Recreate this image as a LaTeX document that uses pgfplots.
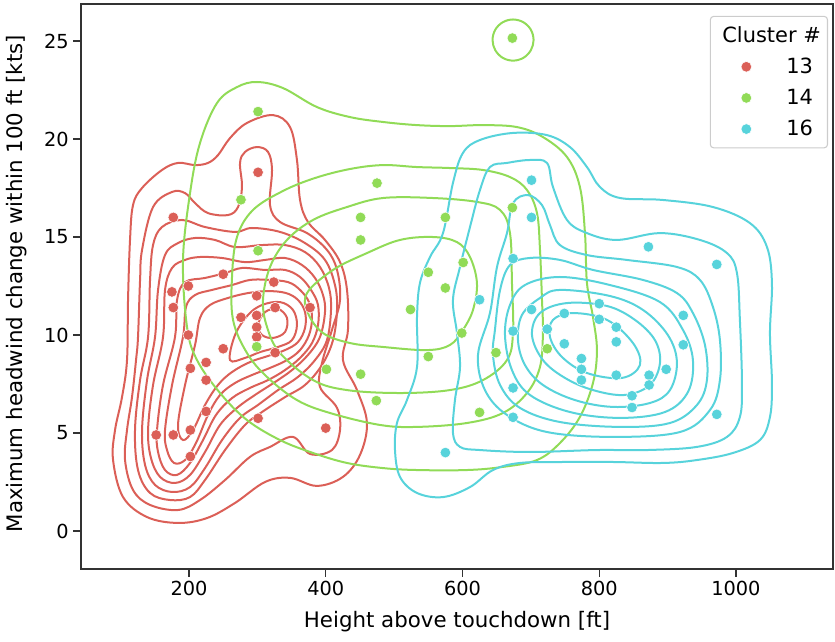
\documentclass[border=0pt]{standalone}
\usepackage{fontspec}
\setmainfont{DejaVu Sans}
\usepackage{pgfplots}
\pgfplotsset{compat=1.18}
\definecolor{c13}{HTML}{DB5F57}
\definecolor{c14}{HTML}{91DB57}
\definecolor{c16}{HTML}{57D3DB}
\definecolor{spine}{HTML}{333333}
\definecolor{legframe}{HTML}{CCCCCC}

\begin{document}
\begin{tikzpicture}
\begin{axis}[
  scale only axis,
  width=564pt, height=423.75pt,
  xmin=42, xmax=1142, ymin=-1.94, ymax=26.89,
  xtick={200,400,600,800,1000},
  ytick={0,5,10,15,20,25},
  /pgf/number format/1000 sep={},
  /pgf/number format/assume math mode=true,
  tick align=outside,
  major tick length=5.7pt,
  xtick pos=bottom, ytick pos=left,
  axis line style={spine, line width=1pt},
  every tick/.style={spine, line width=1pt},
  tick label style={font=\fontsize{14.5}{17}\selectfont},
  label style={font=\fontsize{16}{19}\selectfont},
  xlabel={Height above touchdown [ft]},
  ylabel={Maximum headwind change within 100 ft [kts]},
  xlabel style={at={(axis description cs:0.5,-0.0938)}, anchor=center},
  ylabel style={at={(axis description cs:-0.0851,0.505)}, anchor=center},
  legend cell align=left,
  legend style={at={(0.9934,0.979)}, anchor=north east, draw=legframe,
    line width=0.8pt, rounded corners=2.5pt, inner xsep=3pt, inner ysep=5.5pt,
    row sep=6.3pt, font=\fontsize{15.7}{18}\selectfont},
  legend image code/.code={\path[draw=none,fill=none] (-24pt,-4pt) rectangle (28pt,4pt);
    \draw[#1] plot coordinates {(0pt,0pt)};},
  cont/.style={smooth cycle, tension=0.6, line width=1.5pt, forget plot},
  pts/.style={only marks, mark=*, mark size=4pt,
    mark options={draw=white, line width=0.4pt}},
]
\coordinate (bl) at (rel axis cs:0,0);
\coordinate (tr) at (rel axis cs:1,1);

% ---- cluster 13 contours
\addplot[cont, c13] coordinates {
(113.7,14.85) (118.1,16.63) (131.3,17.50) (160.5,18.42) (183.9,18.78) (208.8,18.67)
(227.8,18.78) (242.4,19.18) (260.0,20.05) (284.8,20.82) (322.9,21.22) (347.7,20.61)
(357.9,18.93) (362.4,16.89) (374.0,15.77) (398.9,14.85) (420.9,13.72) (431.1,12.30)
(432.5,10.26) (425.2,8.72) (445.7,7.19) (460.3,5.51) (450.1,3.88) (425.2,2.76)
(387.2,2.30) (347.7,2.71) (311.2,2.50) (267.3,1.43) (226.3,0.66) (183.9,0.41)
(138.6,0.71) (103.5,1.73) (88.9,3.62) (91.8,5.15) (102.0,6.83) (109.3,8.72) (110.8,11.79)};
\addplot[cont, c13] coordinates {
(125.4,9.90) (128.4,12.81) (131.3,14.34) (147.4,16.53) (175.2,17.30) (194.2,17.24)
(208.8,16.73) (227.8,16.22) (257.1,16.12) (271.7,16.53) (277.5,17.55) (274.6,18.78)
(281.9,19.34) (299.5,19.59) (315.6,19.34) (321.4,18.42) (318.5,16.63) (333.1,15.77)
(372.6,15.20) (401.8,14.34) (416.5,13.32) (420.9,11.79) (409.1,10.26) (394.5,8.57)
(391.6,7.35) (416.5,6.28) (420.9,5.15) (409.1,4.13) (377.0,3.93) (352.1,4.80)
(318.5,4.29) (289.2,3.78) (252.7,2.60) (216.1,1.58) (183.9,1.07) (143.0,1.33)
(118.1,2.09) (106.4,3.62) (109.3,5.15) (116.6,6.83) (122.5,8.72)};
\addplot[cont, c13] coordinates {
(121.0,5.15) (128.4,7.70) (140.1,9.90) (143.0,12.81) (147.4,14.59) (160.5,15.51)
(189.8,15.87) (223.4,15.51) (267.3,15.26) (292.2,15.46) (333.1,15.26) (369.7,14.69)
(398.9,13.83) (413.5,12.55) (416.5,11.28) (410.6,9.74) (394.5,8.47) (369.7,7.45)
(340.4,6.83) (306.8,6.07) (281.9,5.41) (252.7,4.13) (223.4,2.60) (201.5,1.73)
(172.2,1.58) (143.0,1.94) (125.4,3.11)};
\addplot[cont, c13] coordinates {
(131.3,5.15) (138.6,7.70) (150.3,9.90) (154.7,12.30) (164.9,14.08) (183.9,14.69)
(208.8,14.95) (238.0,14.85) (267.3,14.49) (306.8,14.59) (340.4,14.59) (369.7,14.23)
(391.6,13.47) (404.8,12.40) (407.7,11.28) (401.8,9.74) (384.3,8.72) (359.4,7.86)
(330.2,7.19) (300.9,6.43) (274.6,5.77) (248.3,4.64) (223.4,3.21) (201.5,2.24)
(175.2,1.99) (150.3,2.35) (135.7,3.37)};
\addplot[cont, c13] coordinates {
(140.1,5.15) (147.4,7.45) (162.0,9.90) (164.9,12.30) (175.2,13.42) (194.2,13.83)
(216.1,13.98) (248.3,13.93) (281.9,13.72) (311.2,13.83) (340.4,13.93) (365.3,13.57)
(384.3,12.91) (396.0,12.04) (398.9,11.17) (391.6,9.90) (374.0,8.98) (350.6,8.21)
(325.8,7.60) (296.5,6.94) (270.2,6.28) (245.4,5.41) (223.4,4.03) (201.5,2.86)
(179.5,2.45) (157.6,2.76) (144.4,3.72)};
\addplot[cont, c13] coordinates {
(153.2,5.15) (162.0,7.45) (179.5,9.90) (182.5,11.79) (194.2,12.70) (223.4,12.91)
(252.7,13.16) (277.5,13.42) (311.2,13.32) (340.4,13.32) (362.4,12.96) (378.4,12.30)
(388.7,11.53) (388.7,10.51) (379.9,9.59) (362.4,8.83) (340.4,8.21) (315.6,7.70)
(289.2,7.30) (262.9,6.78) (239.5,5.92) (220.5,4.64) (201.5,3.47) (182.5,2.86)
(164.9,3.11) (154.7,4.03)};
\addplot[cont, c13] coordinates {
(164.9,5.15) (175.2,7.45) (191.2,9.90) (195.6,11.43) (208.8,12.04) (233.7,12.30)
(262.9,12.55) (289.2,12.81) (315.6,12.81) (344.8,12.70) (362.4,12.30) (375.5,11.68)
(379.9,10.87) (375.5,10.00) (362.4,9.23) (343.3,8.72) (318.5,8.32) (292.2,7.96)
(267.3,7.55) (245.4,6.94) (227.8,5.92) (210.2,4.49) (194.2,3.62) (178.1,3.47)
(167.8,4.13)};
\addplot[cont, c13] coordinates {
(183.9,5.41) (194.2,7.45) (208.8,9.49) (216.1,10.87) (230.7,11.53) (257.1,11.89)
(286.3,12.14) (315.6,12.24) (341.9,12.14) (359.4,11.79) (369.7,11.17) (369.7,10.36)
(359.4,9.64) (340.4,9.23) (315.6,8.93) (289.2,8.62) (262.9,8.11) (242.4,7.45)
(223.4,6.43) (205.9,5.15) (191.2,4.64)};
\addplot[cont, c13] coordinates {
(260.0,8.72) (267.3,10.00) (286.3,11.02) (306.8,11.53) (333.1,11.68) (352.1,11.28)
(357.9,10.51) (350.6,9.74) (330.2,9.39) (303.9,9.13) (281.9,8.83)};
\addplot[cont, c13] coordinates {
(300.9,10.51) (311.2,11.17) (330.2,11.33) (343.3,10.87) (340.4,10.15) (322.9,9.85)
(306.8,10.00)};

% ---- cluster 14 contours
\addplot[cont, c14] coordinates {
(201.5,17.24) (216.1,19.80) (241.0,21.84) (270.2,22.65) (299.5,22.91) (337.5,22.60)
(387.2,21.63) (435.5,21.12) (483.7,20.87) (533.5,20.71) (581.7,20.66) (630.0,20.71)
(679.7,20.61) (717.7,20.10) (752.9,19.08) (771.8,17.55) (779.2,15.20) (782.1,12.65)
(790.9,10.92) (796.7,9.23) (790.9,7.55) (771.8,5.82) (742.6,4.49) (709.0,3.62)
(659.2,3.27) (606.6,3.11) (533.5,3.11) (483.7,3.21) (431.1,3.47) (381.4,3.98)
(333.1,4.64) (284.8,5.66) (245.4,7.04) (211.7,8.72) (197.1,10.41) (191.2,13.83)};
\addplot[cont, c14] coordinates {
(262.9,12.96) (270.2,15.00) (293.6,16.38) (337.5,17.35) (384.3,18.01) (435.5,18.47)
(483.7,18.67) (533.5,18.57) (581.7,18.52) (630.0,18.42) (669.5,18.06) (694.4,17.40)
(709.0,16.22) (713.4,14.34) (716.3,11.79) (717.7,10.10) (713.4,8.37) (694.4,7.04)
(659.2,6.02) (606.6,5.51) (533.5,5.31) (479.4,5.41) (406.2,6.02) (357.9,6.68)
(314.1,7.86) (284.8,9.08) (264.4,10.77)};
\addplot[cont, c14] coordinates {
(308.2,11.79) (318.5,13.47) (343.3,14.85) (381.4,15.87) (431.1,16.53) (483.7,16.99)
(556.9,16.99) (621.2,16.79) (655.0,16.38) (669.5,15.20) (672.4,12.65) (673.9,10.10)
(665.1,8.72) (630.0,7.70) (581.7,7.19) (508.6,7.04) (431.1,7.19) (381.4,7.70)
(333.1,9.08) (314.1,10.41)};
\addplot[cont, c14] coordinates {
(374.0,11.12) (372.6,12.14) (410.6,13.32) (460.3,14.18) (508.6,14.85) (556.9,15.00)
(592.0,14.74) (611.0,13.98) (621.2,12.65) (615.4,11.28) (600.7,10.26) (581.7,9.49)
(548.1,9.23) (483.7,9.39) (435.5,9.59) (396.0,10.10)};
\addplot[cont, c14] coordinates {
(704,25.05) (700,25.58) (689,25.96) (674,26.10) (659,25.96) (648,25.58)
(644,25.05) (648,24.53) (659,24.14) (674,24.00) (689,24.14) (700,24.53)};

% ---- cluster 16 contours
\addplot[cont, c16] coordinates {
(501.3,4.13) (508.6,2.76) (533.5,1.94) (571.5,1.73) (611.0,2.24) (644.6,3.11)
(684.1,3.47) (747.0,3.52) (820.1,3.52) (893.2,3.47) (943.0,3.62) (995.6,3.98)
(1035.1,4.64) (1049.8,5.82) (1052.7,7.55) (1049.8,10.10) (1052.7,12.65) (1045.4,14.49)
(1020.5,15.71) (966.4,16.53) (893.2,16.89) (830.4,16.99) (801.1,17.55) (782.1,18.57)
(757.2,19.59) (723.6,20.20) (673.9,20.31) (625.6,19.95) (600.7,19.29) (586.1,17.76)
(571.5,15.20) (552.5,13.98) (537.8,12.65) (533.5,10.92) (533.5,8.37) (518.8,6.68)
(504.2,5.51)};
\addplot[cont, c16] coordinates {
(640.2,18.57) (665.1,18.78) (698.7,18.93) (723.6,18.78) (732.4,17.55) (752.9,15.87)
(782.1,15.20) (826.0,14.85) (888.9,15.20) (947.4,14.85) (986.9,14.18) (1001.5,13.16)
(1005.8,10.77) (1008.8,7.55) (1005.8,5.82) (986.9,4.80) (943.0,4.29) (869.9,4.13)
(796.7,4.13) (698.7,4.03) (625.6,4.13) (596.4,4.29) (586.1,5.00) (589.0,6.68)
(596.4,8.37) (592.0,10.10) (586.1,11.79) (596.4,13.47) (611.0,15.51) (625.6,17.40)};
\addplot[cont, c16] coordinates {
(640.2,11.12) (650.5,13.47) (665.1,15.20) (673.9,16.73) (695.8,17.14) (716.3,16.63)
(728.0,15.61) (742.6,14.59) (782.1,14.08) (840.6,13.83) (913.7,13.47) (947.4,12.81)
(966.4,11.43) (976.6,9.74) (976.6,7.70) (962.0,6.17) (918.1,5.05) (820.1,4.80)
(723.6,5.05) (665.1,5.92) (632.9,7.19) (622.7,8.98)};
\addplot[cont, c16] coordinates {
(647.5,10.26) (655.0,12.30) (669.5,13.57) (698.7,13.93) (742.6,13.83) (790.9,13.32)
(864.0,12.81) (913.7,12.14) (937.1,11.12) (954.7,9.49) (957.6,7.70) (943.0,6.43)
(903.5,5.51) (830.4,5.31) (742.6,5.56) (684.1,6.28) (655.0,7.45) (644.6,8.98)};
\addplot[cont, c16] coordinates {
(662.2,10.00) (669.5,11.53) (691.4,12.55) (742.6,12.96) (815.7,12.55) (888.9,11.68)
(922.5,10.26) (937.1,8.72) (929.8,7.09) (896.2,6.07) (830.4,5.77) (757.2,6.07)
(698.7,6.94) (672.4,8.21)};
\addplot[cont, c16] coordinates {
(681.2,9.74) (687.0,11.02) (713.4,11.89) (742.6,12.30) (815.7,11.99) (864.0,11.28)
(900.4,10.00) (913.7,8.62) (903.5,7.19) (874.2,6.53) (820.1,6.33) (764.5,6.68)
(717.7,7.45) (691.4,8.47)};
\addplot[cont, c16] coordinates {
(701.7,10.00) (713.4,11.12) (752.9,11.63) (811.4,11.48) (852.3,10.77) (881.5,9.74)
(888.9,8.57) (874.2,7.45) (837.7,6.94) (790.9,7.19) (749.9,7.81) (717.7,8.72)};
\addplot[cont, c16] coordinates {
(728.0,9.90) (732.4,10.77) (761.6,11.12) (811.4,10.77) (849.4,9.59) (859.6,8.47)
(833.3,7.81) (782.1,8.06) (745.5,8.88)};

% ---- points
\addlegendimage{empty legend}
\addlegendentry{\hspace{-48pt}Cluster \#}
\addplot[pts, c13] coordinates {
(301,18.3) (177,16.0) (250,13.1) (175,12.2) (199,12.5) (177,11.4) (324,12.7)
(299,12.0) (326,11.4) (276,10.9) (299,11.0) (299,10.4) (299,9.9) (199,10.0)
(377,11.4) (250,9.3) (202,8.3) (225,8.6) (225,7.7) (326,9.1) (225,6.1)
(152,4.9) (177,4.9) (202,5.15) (202,3.8) (301,5.75) (400,5.25)};
\addlegendentry{13}
\addplot[pts, c14] coordinates {
(673,25.15) (301,21.4) (276,16.9) (301,14.3) (475,17.75) (451,16.0) (451,14.85)
(575,16.0) (673,16.5) (601,13.7) (550,13.2) (575,12.4) (524,11.3) (599,10.1)
(299,9.4) (401,8.25) (451,8.0) (474,6.65) (550,8.9) (649,9.1) (724,9.3) (625,6.05)};
\addlegendentry{14}
\addplot[pts, c16] coordinates {
(701,17.9) (701,16.0) (674,13.9) (872,14.5) (972,13.6) (625,11.8) (701,11.3)
(749,11.1) (800,11.6) (800,10.8) (825,10.4) (674,10.2) (724,10.3) (749,9.55)
(825,9.65) (923,11.0) (923,9.5) (774,8.8) (774,8.25) (774,7.7) (825,7.95)
(898,8.25) (873,7.95) (873,7.45) (848,6.9) (848,6.3) (972,5.95) (674,7.3)
(674,5.8) (575,4.0)};
\addlegendentry{16}
\end{axis}
\pgfresetboundingbox
\path[use as bounding box] ([xshift=-60.75pt,yshift=-54.75pt]bl) rectangle ([xshift=1.5pt,yshift=3pt]tr);
\end{tikzpicture}
\end{document}
